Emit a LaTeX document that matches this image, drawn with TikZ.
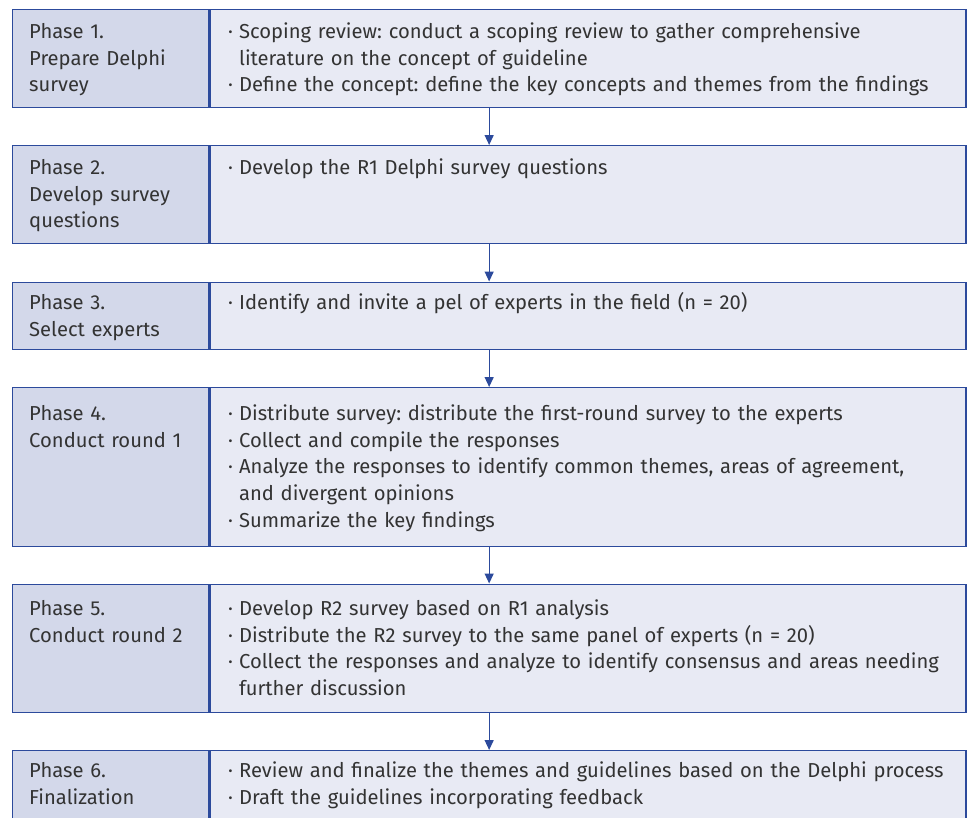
\documentclass[tikz,border=0pt]{standalone}
\usepackage{fontspec}
\setmainfont{Fira Sans}
\usepackage{xcolor}
\usepackage{tikz}
\usetikzlibrary{calc, arrows.meta}

\definecolor{labfill}{HTML}{D3D8EA}
\definecolor{txtfill}{HTML}{E8EAF4}
\definecolor{edgeblue}{HTML}{2C4A9C}
\definecolor{ink}{HTML}{333333}

\frenchspacing
\hyphenpenalty=10000
\newcommand{\bitem}[1]{\hangindent=11pt\hangafter=1\noindent\makebox[11pt][l]{·}#1\par}

\tikzset{
  lab/.style={draw=edgeblue, fill=labfill, line width=1.4pt, anchor=north west,
    inner xsep=17pt, inner ysep=0pt, text width=162.5pt, align=left, text=ink,
    font=\fontsize{20.2}{26.6}\selectfont},
  txt/.style={draw=edgeblue, fill=txtfill, line width=1.4pt, anchor=north west,
    inner xsep=18pt, inner ysep=0pt, text width=720pt, align=left, text=ink,
    font=\fontsize{20.2}{26.6}\selectfont},
  flow/.style={draw=edgeblue, line width=1.3pt, -{Triangle[length=10pt, width=9pt]}}
}

\begin{document}
\begin{tikzpicture}[x=1pt, y=-1pt]
\useasboundingbox[fill=white] (0,0) rectangle (968,817);

% phase 1
\node[lab, text height=29pt, text depth=69pt] (ph1) at (11.5,9) {Phase 1.\\Prepare Delphi\\survey};
\node[txt, text height=29pt, text depth=69pt] (tx1) at (ph1.north east) {%
\bitem{Scoping review: conduct a scoping review to gather comprehensive\newline literature on the concept of guideline}%
\bitem{Define the concept: define the key concepts and themes from the findings}};

% phase 2
\node[lab, text height=29pt, text depth=69pt] (ph2) at (11.5,145) {Phase 2.\\Develop survey\\questions};
\node[txt, text height=29pt, text depth=69pt] (tx2) at (ph2.north east) {%
\bitem{Develop the R1 Delphi survey questions}};

% phase 3
\node[lab, text height=27.5pt, text depth=40pt] (ph3) at (11.5,281.5) {Phase 3.\\Select experts};
\node[txt, text height=27.5pt, text depth=40pt] (tx3) at (ph3.north east) {%
\bitem{Identify and invite a pel of experts in the field (n = 20)}};

% phase 4
\node[lab, text height=33pt, text depth=125.5pt] (ph4) at (11.5,387) {Phase 4.\\Conduct round 1};
\node[txt, text height=33pt, text depth=125.5pt] (tx4) at (ph4.north east) {%
\bitem{Distribute survey: distribute the first-round survey to the experts}%
\bitem{Collect and compile the responses}%
\bitem{Analyze the responses to identify common themes, areas of agreement,\newline and divergent opinions}%
\bitem{Summarize the key findings}};

% phase 5
\node[lab, text height=31.5pt, text depth=97pt] (ph5) at (11.5,583.5) {Phase 5.\\Conduct round 2};
\node[txt, text height=31.5pt, text depth=97pt] (tx5) at (ph5.north east) {%
\bitem{Develop R2 survey based on R1 analysis}%
\bitem{Distribute the R2 survey to the same panel of experts (n = 20)}%
\bitem{\mbox{Collect the responses and analyze to identify consensus and areas needing}\newline further discussion}};

% phase 6
\node[lab, text height=27pt, text depth=71pt] (ph6) at (11.5,750) {Phase 6.\\Finalization};
\node[txt, text height=27pt, text depth=71pt] (tx6) at (ph6.north east) {%
\bitem{\mbox{Review and finalize the themes and guidelines based on the Delphi process}}%
\bitem{Draft the guidelines incorporating feedback}};

% arrows
\draw[flow] ($(ph1.south west)!.5!(tx1.south east)$) -- ($(ph2.north west)!.5!(tx2.north east)$);
\draw[flow] ($(ph2.south west)!.5!(tx2.south east)$) -- ($(ph3.north west)!.5!(tx3.north east)$);
\draw[flow] ($(ph3.south west)!.5!(tx3.south east)$) -- ($(ph4.north west)!.5!(tx4.north east)$);
\draw[flow] ($(ph4.south west)!.5!(tx4.south east)$) -- ($(ph5.north west)!.5!(tx5.north east)$);
\draw[flow] ($(ph5.south west)!.5!(tx5.south east)$) -- ($(ph6.north west)!.5!(tx6.north east)$);
\end{tikzpicture}
\end{document}
